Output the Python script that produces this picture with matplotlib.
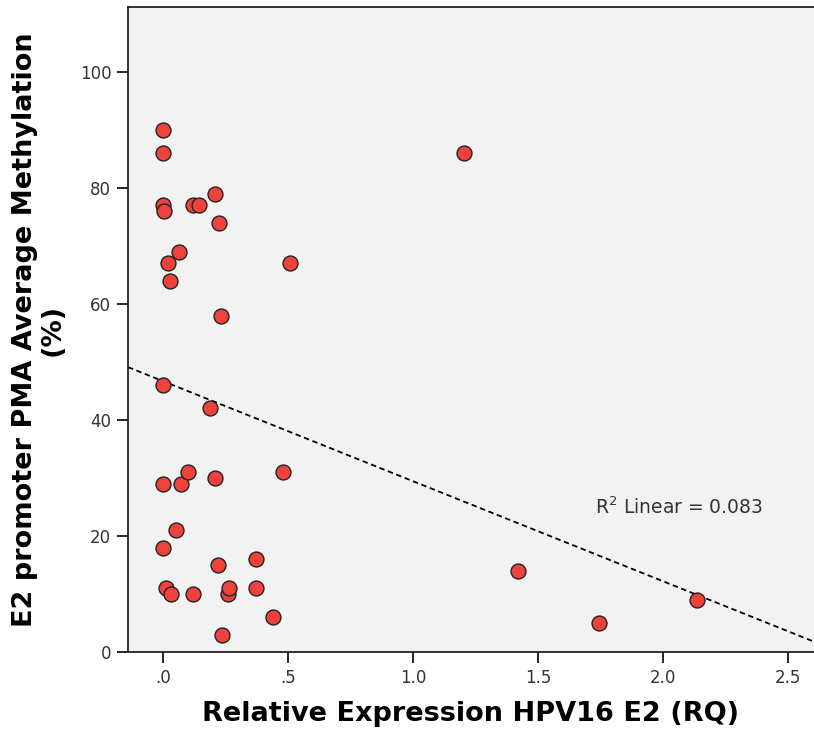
import matplotlib
matplotlib.use("Agg")
import matplotlib.pyplot as plt
import numpy as np

# Relative expression HPV16 E2 (RQ)
rq = [0.0, 0.0, 0.001, 0.005, 0.121, 0.145, 0.209, 0.225, 0.064, 0.02, 0.029, 0.233,
      0.508, 1.204, 0.001, 0.188, 0.001, 0.072, 0.101, 0.209, 0.479, 0.053, 0.001,
      0.221, 0.371, 0.012, 0.031, 0.119, 0.261, 0.264, 0.371, 0.441, 0.235, 1.42,
      1.745, 2.135]
# E2 promoter PMA average methylation (%)
meth = [90, 86, 77, 76, 77, 77, 79, 74, 69, 67, 64, 58,
        67, 86, 46, 42, 29, 29, 31, 30, 31, 21, 18,
        15, 16, 11, 10, 10, 10, 11, 11, 6, 3, 14,
        5, 9]

# Linear fit line as shown in the reference
fit_intercept = 46.7
fit_slope = -17.25

xticks = [0.0, 0.5, 1.0, 1.5, 2.0, 2.5]
xticklabels = [".0", ".5", "1.0", "1.5", "2.0", "2.5"]
yticks = [0, 20, 40, 60, 80, 100]
r2_label = "R$^2$ Linear = 0.083"

fig = plt.figure(figsize=(8.14, 7.33), dpi=100)
ax = fig.add_axes([128/814, 81/733, 1 - 128/814, (652 - 7)/733])
ax.set_facecolor("#f2f2f2")

x = np.array(rq)
y = np.array(meth)
xmin, xmax = -0.14, 2.604
ymax = (652 - 7) / 5.8

xs = np.array([xmin, xmax])
ax.plot(xs, fit_intercept + fit_slope * xs, color="black", linestyle=(0, (3, 2)),
        linewidth=1.3, zorder=2)

ax.scatter(x, y, s=115, color="#f0423c", edgecolors="#222222", linewidths=1.0, zorder=3)

ax.text(1.728, 25, r2_label, fontsize=13.5, color="#333333", va="center", ha="left")

ax.set_xlim(xmin, xmax)
ax.set_ylim(0, ymax)
ax.set_xticks(xticks)
ax.set_xticklabels(xticklabels)
ax.set_yticks(yticks)
ax.tick_params(direction="out", length=8, width=1.2, labelsize=12, labelcolor="#333333",
               color="black", pad=4)
for s in ["left", "bottom", "top"]:
    ax.spines[s].set_linewidth(1.3)
    ax.spines[s].set_color("#222222")
ax.spines["right"].set_visible(False)

ax.set_xlabel("Relative Expression HPV16 E2 (RQ)", fontsize=19.5, fontweight="bold", labelpad=10)
ax.set_ylabel("E2 promoter PMA Average Methylation\n(%)", fontsize=19.5, fontweight="bold",
              labelpad=10, linespacing=1.1)

fig.savefig("out.png", dpi=100)
